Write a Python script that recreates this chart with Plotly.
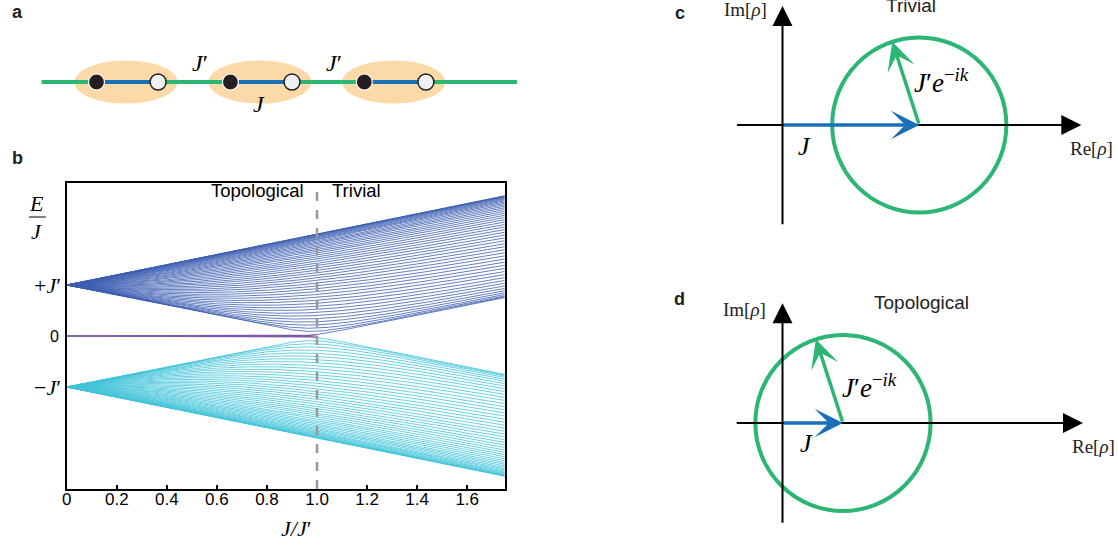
import numpy as np
import plotly.graph_objects as go

W, H = 1118, 548

# ---------------- data ----------------
# panel b: SSH chain spectrum (open chain), model parameters
n_cells = 50
ratio_start, ratio_stop, ratio_samples = 0.0, 1.75, 351
x_tickvals = [0, 0.2, 0.4, 0.6, 0.8, 1.0, 1.2, 1.4, 1.6]
x_ticktext = ["0", "0.2", "0.4", "0.6", "0.8", "1.0", "1.2", "1.4", "1.6"]
y_labelvals = [1, 0, -1]
y_labeltext = ["+<i>J</i>′", "0", "−<i>J</i>′"]
y_range = [-3, 3]
phase_boundary = 1.0

# panel a: chain of dimers
cell_centers = [0, 1, 2]
site_offsets = [-0.22, 0.24]
chain_extent = [-0.63, 2.92]
cell_half_width, cell_half_height = 0.385, 0.16

# panels c, d: winding picture
J_prime = 1.0
J_trivial = 1.57
J_topological = 0.69
arrow_angle_deg = 108

# ---------------- colours ----------------
C_UP = "#3d60b2"
C_LO = "#42c4d9"
C_ZERO = "#7d5aa6"
C_GREEN = "#2bb673"
C_BLUE = "#1a70b8"
C_CELL = "#fcdaa8"
SERIF = "Liberation Serif, Times New Roman, serif"
SANS = "Liberation Sans, Arial, sans-serif"

# ---------------- spectrum ----------------
ratios = np.linspace(ratio_start, ratio_stop, ratio_samples)
n_sites = 2 * n_cells
E = np.zeros((ratio_samples, n_sites))
idx = np.arange(n_cells)
for i, r in enumerate(ratios):
    Hm = np.zeros((n_sites, n_sites))
    Hm[2 * idx, 2 * idx + 1] = r
    Hm[2 * idx[:-1] + 1, 2 * idx[:-1] + 2] = J_prime
    Hm = Hm + Hm.T
    E[i] = np.linalg.eigvalsh(Hm)


def stack(cols, mask=None):
    xs, ys = [], []
    m = np.ones_like(ratios, dtype=bool) if mask is None else mask
    for j in cols:
        xs += list(ratios[m]) + [None]
        ys += list(E[m, j]) + [None]
    return xs, ys


N = n_cells
after = ratios >= phase_boundary
before = ratios <= phase_boundary
ux1, uy1 = stack(range(N + 1, 2 * N))
ux2, uy2 = stack([N], after)
lx1, ly1 = stack(range(0, N - 1))
lx2, ly2 = stack([N - 1], after)
zx, zy = stack([N - 1, N], before)

fig = go.Figure()
lw = 0.8
for xs, ys, c in [(ux1 + ux2, uy1 + uy2, C_UP), (lx1 + lx2, ly1 + ly2, C_LO), (zx, zy, C_ZERO)]:
    fig.add_trace(go.Scatter(x=xs, y=ys, mode="lines", line=dict(color=c, width=lw if c != C_ZERO else 1.5),
                             hoverinfo="skip", showlegend=False, xaxis="x", yaxis="y"))


# ---------------- helper for diagram axes ----------------
def box(px0, px1, py0, py1, ox, oy, s):
    return (dict(domain=[px0 / W, px1 / W], range=[(px0 - ox) / s, (px1 - ox) / s]),
            dict(domain=[1 - py1 / H, 1 - py0 / H], range=[(oy - py1) / s, (oy - py0) / s]))


hidden = dict(visible=False, showgrid=False, zeroline=False, fixedrange=True)
ax2x, ax2y = box(0, 560, 30, 135, 121.5, 82, 134.5)
ax3x, ax3y = box(690, 1118, 0, 240, 781, 125, 87.5)
ax4x, ax4y = box(690, 1118, 280, 548, 781, 423, 88)

ann = []


def text(x, y, t, family, size, xref="paper", yref="paper", color="black", xanchor="center", yanchor="middle"):
    ann.append(dict(x=x, y=y, xref=xref, yref=yref, text=t, showarrow=False, xanchor=xanchor, yanchor=yanchor,
                    font=dict(family=family, size=size, color=color)))


# ---------------- panel a ----------------
for c in cell_centers:
    fig.add_shape(type="circle", xref="x2", yref="y2", x0=c - cell_half_width, x1=c + cell_half_width,
                  y0=-cell_half_height, y1=cell_half_height, fillcolor=C_CELL, line=dict(width=0), layer="below")
fig.add_trace(go.Scatter(x=chain_extent, y=[0, 0], mode="lines", line=dict(color=C_GREEN, width=4),
                         xaxis="x2", yaxis="y2", hoverinfo="skip", showlegend=False))
bx, by = [], []
for c in cell_centers:
    bx += [c + site_offsets[0], c + site_offsets[1], None]
    by += [0, 0, None]
fig.add_trace(go.Scatter(x=bx, y=by, mode="lines", line=dict(color=C_BLUE, width=4),
                         xaxis="x2", yaxis="y2", hoverinfo="skip", showlegend=False))
fig.add_trace(go.Scatter(x=[c + site_offsets[0] for c in cell_centers], y=[0] * len(cell_centers), mode="markers",
                         marker=dict(size=16, color="#231f20", line=dict(color="white", width=1.2)),
                         xaxis="x2", yaxis="y2", hoverinfo="skip", showlegend=False))
fig.add_trace(go.Scatter(x=[c + site_offsets[1] for c in cell_centers], y=[0] * len(cell_centers), mode="markers",
                         marker=dict(size=16, color="#eef0f4", line=dict(color="#231f20", width=1.5)),
                         xaxis="x2", yaxis="y2", hoverinfo="skip", showlegend=False))

for c in cell_centers[:-1]:
    text(c + 0.55, 0.14, "<i>J</i>′", SERIF, 24, "x2", "y2")
text(cell_centers[1] - 0.01, -0.16, "<i>J</i>", SERIF, 24, "x2", "y2")


# ---------------- panels c, d ----------------
def winding(xr, yr, Jv, title, title_dx, lab_pos, J_lab, im_y):
    th = np.deg2rad(arrow_angle_deg)
    fig.add_shape(type="circle", xref=xr, yref=yr, x0=Jv - J_prime, x1=Jv + J_prime,
                  y0=-J_prime, y1=J_prime, line=dict(color=C_GREEN, width=4))
    # axes
    ann.append(dict(x=3.43, y=0, ax=-0.54, ay=0, xref=xr, yref=yr, axref=xr, ayref=yr, text="",
                    showarrow=True, arrowhead=2, arrowsize=2.0, arrowwidth=2, arrowcolor="black", standoff=0))
    ann.append(dict(x=0, y=1.36, ax=0, ay=-1.15, xref=xr, yref=yr, axref=xr, ayref=yr, text="",
                    showarrow=True, arrowhead=2, arrowsize=2.0, arrowwidth=2, arrowcolor="black", standoff=0))
    # J arrow
    ann.append(dict(x=Jv, y=0, ax=0, ay=0, xref=xr, yref=yr, axref=xr, ayref=yr, text="",
                    showarrow=True, arrowhead=3, arrowsize=1.35, arrowwidth=3.5, arrowcolor=C_BLUE, standoff=0))
    # J' arrow
    ann.append(dict(x=Jv + J_prime * np.cos(th), y=J_prime * np.sin(th), ax=Jv, ay=0, xref=xr, yref=yr,
                    axref=xr, ayref=yr, text="", showarrow=True, arrowhead=3, arrowsize=1.35, arrowwidth=3.5,
                    arrowcolor=C_GREEN, standoff=0))
    text(-0.43, im_y, "Im[<i>ρ</i>]", SERIF, 19, xr, yr, "#222")
    text(3.55, -0.27, "Re[<i>ρ</i>]", SERIF, 19, xr, yr, "#222")
    text(Jv + title_dx, 1.37, title, SANS, 19, xr, yr, "#222")
    text(lab_pos[0], lab_pos[1], "<i>J</i>′<i>e</i><sup>−<i>ik</i></sup>", SERIF, 27, xr, yr)
    text(J_lab[0], J_lab[1], "<i>J</i>", SERIF, 26, xr, yr)


winding("x3", "y3", J_trivial, "Trivial", -0.1, (J_trivial + 0.25, 0.5), (0.25, -0.25), 1.32)
winding("x4", "y4", J_topological, "Topological", 0.9, (J_topological + 0.3, 0.42), (0.27, -0.23), 1.29)

# ---------------- panel b annotations ----------------
for v, t in zip(y_labelvals, y_labeltext):
    if t == "0":
        text(56 / W, v, t, SANS, 16, "paper", "y", xanchor="right")
    else:
        text(58 / W, v, t, SERIF, 22, "paper", "y", xanchor="right")
text(32 / W, 1 - 203 / H, "<i>E</i>", SERIF, 22)
text(32 / W, 1 - 231 / H, "<i>J</i>", SERIF, 22)
fig.add_shape(type="line", xref="paper", yref="paper", x0=24 / W, x1=41 / W, y0=1 - 217 / H, y1=1 - 217 / H,
              line=dict(color="black", width=1))
text(292 / W, 1 - 528 / H, "<i>J</i><i>/</i><i>J</i>′", SERIF, 22)
text(phase_boundary - 0.045, 2.85, "Topological", SANS, 18.5, "x", "y", xanchor="right")
text(phase_boundary + 0.05, 2.85, "Trivial", SANS, 18.5, "x", "y", xanchor="left")
fig.add_shape(type="line", xref="x", yref="y domain", x0=phase_boundary, x1=phase_boundary, y0=0, y1=1,
              line=dict(color="#999999", width=2.5, dash="dash"))

# panel letters
for t, px, py in [("a", 13, 12), ("b", 13, 158), ("c", 678, 13), ("d", 678, 299)]:
    text(px / W, 1 - py / H, "<b>%s</b>" % t, SANS, 18, color="#222")

fig.update_layout(
    width=W, height=H, margin=dict(l=0, r=0, t=0, b=0),
    paper_bgcolor="white", plot_bgcolor="white", showlegend=False,
    xaxis=dict(domain=[62 / W, 502 / W], range=[ratio_start, ratio_stop], tickvals=x_tickvals, ticktext=x_ticktext,
               ticks="inside", ticklen=4, tickwidth=1.5, tickcolor="black", showline=True, mirror=True,
               linecolor="black", linewidth=1.5, showgrid=False, zeroline=False, anchor="y",
               ticklabelstandoff=-6,
               tickfont=dict(family=SANS, size=17, color="black"), fixedrange=True),
    yaxis=dict(domain=[1 - 489 / H, 1 - 183 / H], range=y_range, showticklabels=False, ticks="",
               showline=True, mirror=True, linecolor="black", linewidth=1.5, showgrid=False, zeroline=False,
               anchor="x", fixedrange=True),
    yaxis5=dict(overlaying="y", anchor="x", side="left", range=y_range, tickvals=[-3, 0, 3], ticks="inside",
                ticklen=10, tickwidth=3, tickcolor="black", showticklabels=False, showgrid=False,
                zeroline=False, showline=False, fixedrange=True),
    xaxis2=dict(**ax2x, **hidden, anchor="y2"), yaxis2=dict(**ax2y, **hidden, anchor="x2"),
    xaxis3=dict(**ax3x, **hidden, anchor="y3"), yaxis3=dict(**ax3y, **hidden, anchor="x3"),
    xaxis4=dict(**ax4x, **hidden, anchor="y4"), yaxis4=dict(**ax4y, **hidden, anchor="x4"),
    annotations=ann,
)

fig.write_html("out.html")
